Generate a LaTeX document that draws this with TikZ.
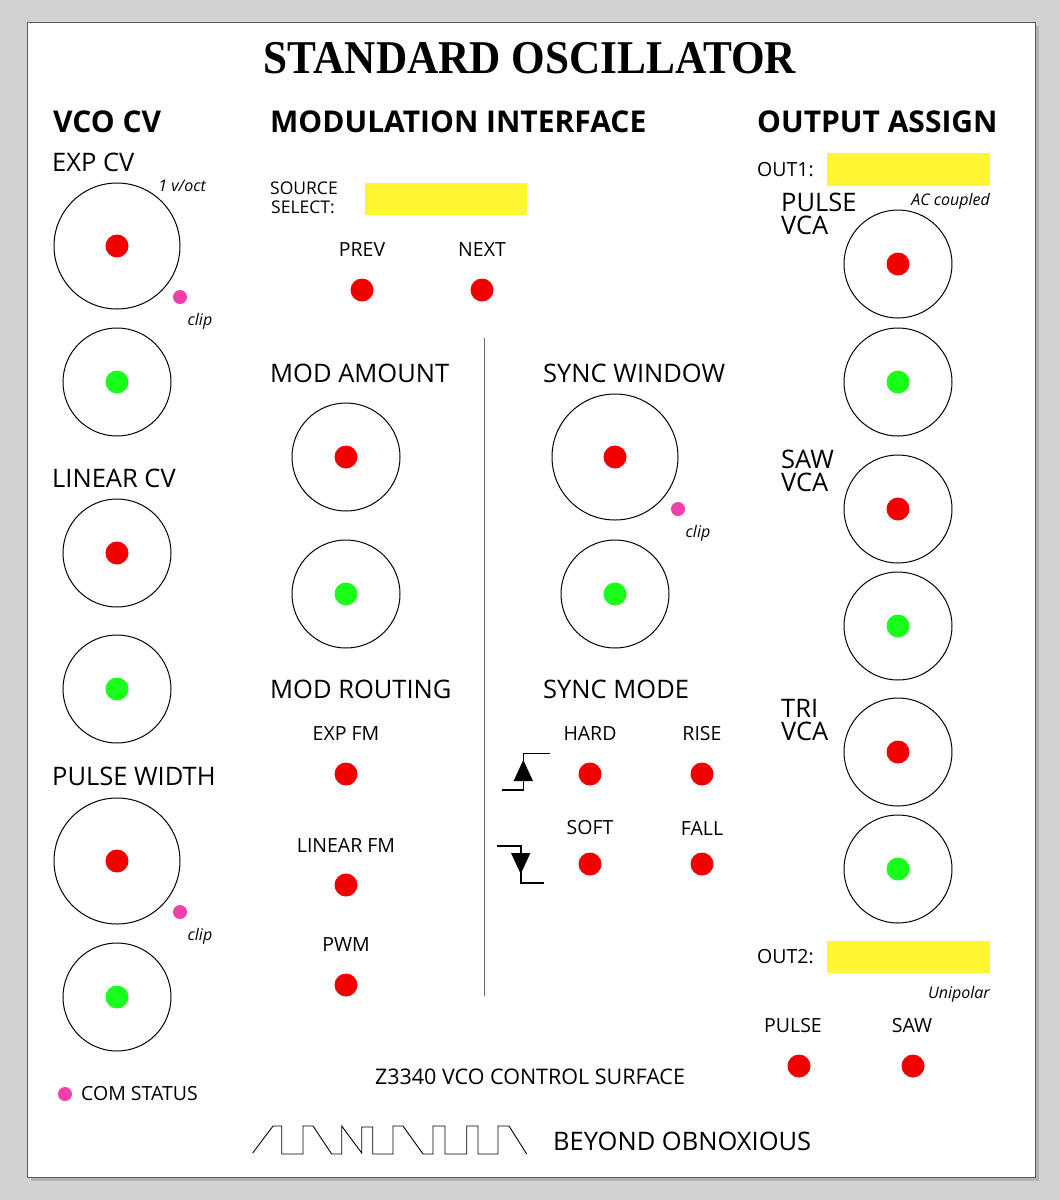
\documentclass[tikz,border=0pt]{standalone}
\usepackage{fontspec}
\setmainfont{Open Sans}
\newfontfamily\titlefont{Liberation Serif}
\begin{document}
\begin{tikzpicture}[x=1pt,y=-1pt,
 knob/.style={draw=black,line width=1pt,circle,minimum size=126pt,inner sep=0pt},
 jack/.style={draw=black,line width=1pt,circle,minimum size=108pt,inner sep=0pt},
 rdot/.style={fill=red!95!black,circle,minimum size=23pt,inner sep=0pt},
 gdot/.style={fill=green!90!white,circle,minimum size=23pt,inner sep=0pt},
 mdot/.style={fill=magenta!75!white,circle,minimum size=14pt,inner sep=0pt},
 hdr/.style={font=\fontsize{30}{32}\selectfont\bfseries,anchor=west,inner sep=0pt},
 sub/.style={font=\fontsize{25.5}{28}\selectfont,anchor=west,inner sep=0pt},
 sm/.style={font=\fontsize{19.5}{21}\selectfont,inner sep=0pt},
 it/.style={font=\fontsize{16}{18}\selectfont\itshape,inner sep=0pt},
 ybox/.style={fill=yellow!80!white,draw=none}]
\useasboundingbox (0,0) rectangle (1060,1200);
\fill[gray!35] (0,0) rectangle (1060,1200);
\fill[gray!60] (31,26) rectangle (1039,1181);
\filldraw[fill=white,draw=gray!70!black] (27,22) rectangle (1035,1177);
\node[font=\titlefont\bfseries\fontsize{47}{50}\selectfont,inner sep=0pt,xscale=0.92] (title) at (530,58) {STANDARD OSCILLATOR};
% headers
\node[hdr] (h1) at (53,122) {VCO CV};
\node[hdr] (h2) at (270,122) {MODULATION INTERFACE};
\node[hdr] (h3) at (757,122) {OUTPUT ASSIGN};
% left column
\node[sub] (l1) at (52,162) {EXP CV};
\node[it,anchor=east] (voct) at (206,186) {1 v/oct};
\node[knob] (k1) at (117,246) {}; \node[rdot] (k1d) at (k1) {};
\node[mdot] (m1) at (180,297) {}; \node[it] (c1) at (200,321) {clip};
\node[jack] (j1) at (117,382) {}; \node[gdot] (j1d) at (j1) {};
\node[sub] (l2) at (52,478) {LINEAR CV};
\node[jack] (k2) at (117,553) {}; \node[rdot] (k2d) at (k2) {};
\node[jack] (j2) at (117,689) {}; \node[gdot] (j2d) at (j2) {};
\node[sub] (l3) at (52,776) {PULSE WIDTH};
\node[knob] (k3) at (117,861) {}; \node[rdot] (k3d) at (k3) {};
\node[mdot] (m2) at (180,912) {}; \node[it] (c2) at (200,936) {clip};
\node[jack] (j3) at (117,997) {}; \node[gdot] (j3d) at (j3) {};
\node[mdot] (m3) at (65,1094) {};
\node[sm,anchor=west] (com) at (81,1094) {COM STATUS};
% middle
\node[font=\fontsize{17.5}{19}\selectfont,anchor=west,align=left,inner sep=0pt] (ss) at (270,198) {SOURCE\\\hspace*{1pt}SELECT:};
\fill[ybox] (365,183) rectangle (527,215);
\node[sm] (prev) at (362,250) {PREV}; \node[rdot] (pd) at (362,290) {};
\node[sm] (next) at (482,250) {NEXT}; \node[rdot] (nd) at (482,290) {};
\draw[gray!80!black,line width=0.8pt] (484,338) -- (484,996);
\node[sub] (ma) at (270,373) {MOD AMOUNT};
\node[jack] (k4) at (346,457) {}; \node[rdot] (k4d) at (k4) {};
\node[jack] (j4) at (346,594) {}; \node[gdot] (j4d) at (j4) {};
\node[sub] (sw) at (543,373) {SYNC WINDOW};
\node[knob] (k5) at (615,457) {}; \node[rdot] (k5d) at (k5) {};
\node[mdot] (m4) at (678,509) {}; \node[it] (c3) at (698,533) {clip};
\node[jack] (j5) at (615,594) {}; \node[gdot] (j5d) at (j5) {};
\node[sub] (mr) at (270,689) {MOD ROUTING};
\node[sub] (sm2) at (543,689) {SYNC MODE};
\node[sm] (efm) at (346,734) {EXP FM}; \node[rdot] (efmd) at (346,774) {};
\node[sm] (lfm) at (346,845) {LINEAR FM}; \node[rdot] (lfmd) at (346,885) {};
\node[sm] (pwm) at (346,945) {PWM}; \node[rdot] (pwmd) at (346,985) {};
\node[sm] (hard) at (590,734) {HARD}; \node[rdot] (hardd) at (590,774) {};
\node[sm] (rise) at (702,734) {RISE}; \node[rdot] (rised) at (702,774) {};
\node[sm] (soft) at (590,828) {SOFT}; \node[rdot] (softd) at (590,864) {};
\node[sm] (fall) at (702,828) {FALL}; \node[rdot] (falld) at (702,864) {};
\draw[line width=1.6pt] (501.5,790) -- (523.3,790) -- (523.3,753.5) -- (549.5,753.5);
\fill (523.3,760) -- (533,781) -- (513.6,781) -- cycle;
\draw[line width=1.6pt] (496.5,846) -- (520.7,846) -- (520.7,882.7) -- (544,882.7);
\fill (511,853) -- (530.4,853) -- (520.7,874) -- cycle;
% right
\node[sm,anchor=west] (o1) at (757,170) {OUT1:};
\fill[ybox] (827,153) rectangle (990,186);
\node[it,anchor=east] (ac) at (990,201) {AC coupled};
\node[sub,align=left,anchor=north west] (pv) at (781,193) {PULSE\\[-5pt]VCA};
\node[jack] (k6) at (898,264) {}; \node[rdot] (k6d) at (k6) {};
\node[jack] (j6) at (898,382) {}; \node[gdot] (j6d) at (j6) {};
\node[sub,align=left,anchor=north west] (sv) at (781,450) {SAW\\[-5pt]VCA};
\node[jack] (k7) at (898,509) {}; \node[rdot] (k7d) at (k7) {};
\node[jack] (j7) at (898,626) {}; \node[gdot] (j7d) at (j7) {};
\node[sub,align=left,anchor=north west] (tv) at (781,699) {TRI\\[-5pt]VCA};
\node[jack] (k8) at (898,752) {}; \node[rdot] (k8d) at (k8) {};
\node[jack] (j8) at (898,869) {}; \node[gdot] (j8d) at (j8) {};
\node[sm,anchor=west] (o2) at (757,957) {OUT2:};
\fill[ybox] (827,941) rectangle (990,973);
\node[it,anchor=east] (uni) at (990,994) {Unipolar};
\node[sm] (pul) at (793,1026) {PULSE}; \node[rdot] (puld) at (799,1066) {};
\node[sm] (saw) at (912,1026) {SAW}; \node[rdot] (sawd) at (913,1066) {};
% bottom
\node[sm,font=\fontsize{21.5}{23}\selectfont] (z) at (530,1077) {Z3340 VCO CONTROL SURFACE};
\draw[line width=0.9pt,line join=miter] (252.7,1153) -- (273,1126) -- (281.7,1126) -- (281.7,1154) -- (303,1154) -- (303,1126) -- (313,1126) -- (331.7,1154) -- (341.7,1154) -- (341.7,1126) -- (361.7,1153) -- (361.7,1127) -- (372.7,1127) -- (372.7,1154) -- (393,1154) -- (393,1126) -- (403,1126) -- (423,1154) -- (433,1154) -- (433,1126) -- (445,1126) -- (445,1154) -- (466.7,1154) -- (466.7,1126) -- (478,1126) -- (478,1154) -- (498,1154) -- (498,1126) -- (509,1126) -- (526.7,1154);
\node[font=\fontsize{25.5}{27}\selectfont,anchor=west,inner sep=0pt] (bo) at (553,1141) {BEYOND OBNOXIOUS};
\end{tikzpicture}
\end{document}
